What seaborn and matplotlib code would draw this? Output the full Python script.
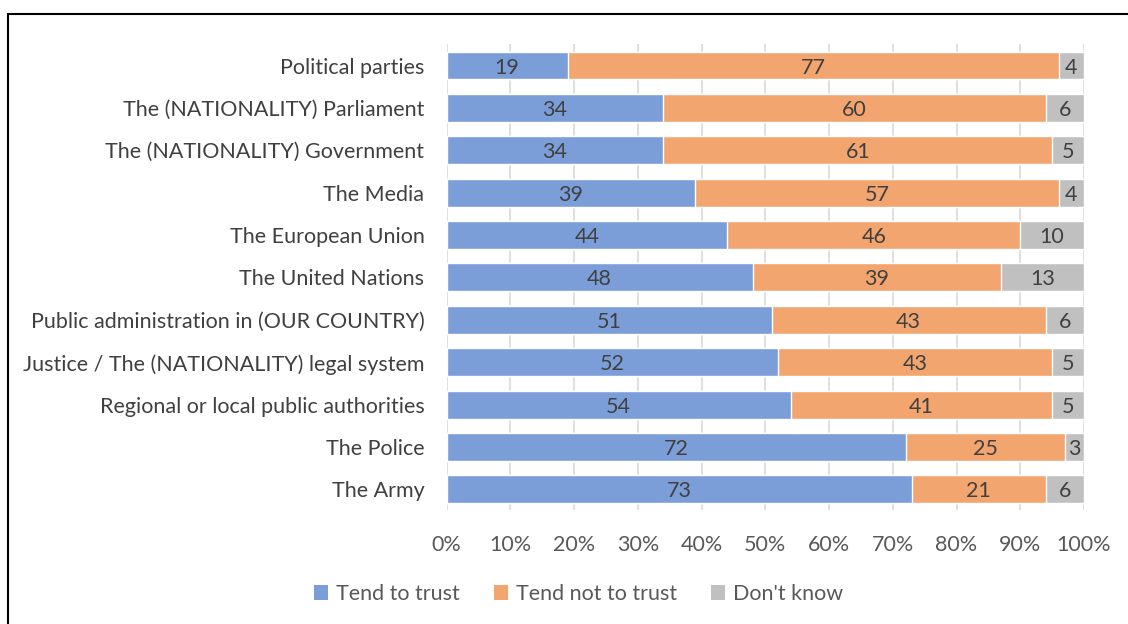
import numpy as np
import pandas as pd
import matplotlib.pyplot as plt
import seaborn as sns
from matplotlib.patches import Patch, Rectangle

# data (percent)
institutions = [
    "Political parties",
    "The (NATIONALITY) Parliament",
    "The (NATIONALITY) Government",
    "The Media",
    "The European Union",
    "The United Nations",
    "Public administration in (OUR COUNTRY)",
    "Justice / The (NATIONALITY) legal system",
    "Regional or local public authorities",
    "The Police",
    "The Army",
]
trust = [19, 34, 34, 39, 44, 48, 51, 52, 54, 72, 73]
not_trust = [77, 60, 61, 57, 46, 39, 43, 43, 41, 25, 21]
dont_know = [4, 6, 5, 4, 10, 13, 6, 5, 5, 3, 6]
series = ["Tend to trust", "Tend not to trust", "Don't know"]
colors = ["#7B9ED8", "#F2A56F", "#C0C0C0"]

df = pd.DataFrame({"Institution": institutions, "trust": trust,
                   "not_trust": not_trust, "dk": dont_know})
df["cum1"] = df["trust"]
df["cum2"] = df["trust"] + df["not_trust"]
df["cum3"] = df["cum2"] + df["dk"]

sns.set_style("white")
plt.rcParams["font.family"] = ["Lato", "DejaVu Sans"]

fig = plt.figure(figsize=(11.28, 6.24), dpi=100)
ax = fig.add_axes([0.396, 0.183, 0.565, 0.746])

# stacked bars drawn as overlapping cumulative totals
for col, c in zip(["cum3", "cum2", "cum1"], colors[::-1]):
    sns.barplot(data=df, x=col, y="Institution", color=c, orient="h",
                width=0.66, saturation=1, ax=ax, zorder=2)

# segment labels
for i, row in df.iterrows():
    starts = [0, row["cum1"], row["cum2"]]
    vals = [row["trust"], row["not_trust"], row["dk"]]
    for s, v in zip(starts, vals):
        ax.text(s + v / 2, i, f"{v}", ha="center", va="center_baseline",
                fontsize=15.5, color="#404040", zorder=3)

ax.set_xlim(0, 100)
ax.set_xticks(np.arange(0, 101, 10))
ax.set_xticklabels([f"{t}%" for t in range(0, 101, 10)])
ax.set_ylim(len(institutions) - 0.52, -0.5)
ax.set_xlabel("")
ax.set_ylabel("")
ax.grid(axis="x", color="#D9D9D9", linewidth=1.2, zorder=0)
ax.set_axisbelow(True)
for sp in ax.spines.values():
    sp.set_visible(False)
ax.tick_params(axis="y", length=0, pad=16, labelsize=15.5, labelcolor="#404040")
ax.tick_params(axis="x", length=0, pad=18, labelsize=15.5, labelcolor="#595959")

handles = [Patch(facecolor=c, edgecolor="none") for c in colors]
fig.legend(handles, series, loc="center", bbox_to_anchor=(0.513, 0.048),
           ncol=3, frameon=False, fontsize=15.5, handlelength=0.65,
           handleheight=0.65, handletextpad=0.35, columnspacing=1.6,
           labelcolor="#595959")

# outer frame
fig.patches.append(Rectangle((8 / 1128, -0.05), 1.2, 1 - 14 / 624 + 0.05,
                             transform=fig.transFigure, fill=False,
                             edgecolor="black", linewidth=1.5))

fig.savefig("out.png", dpi=100)
